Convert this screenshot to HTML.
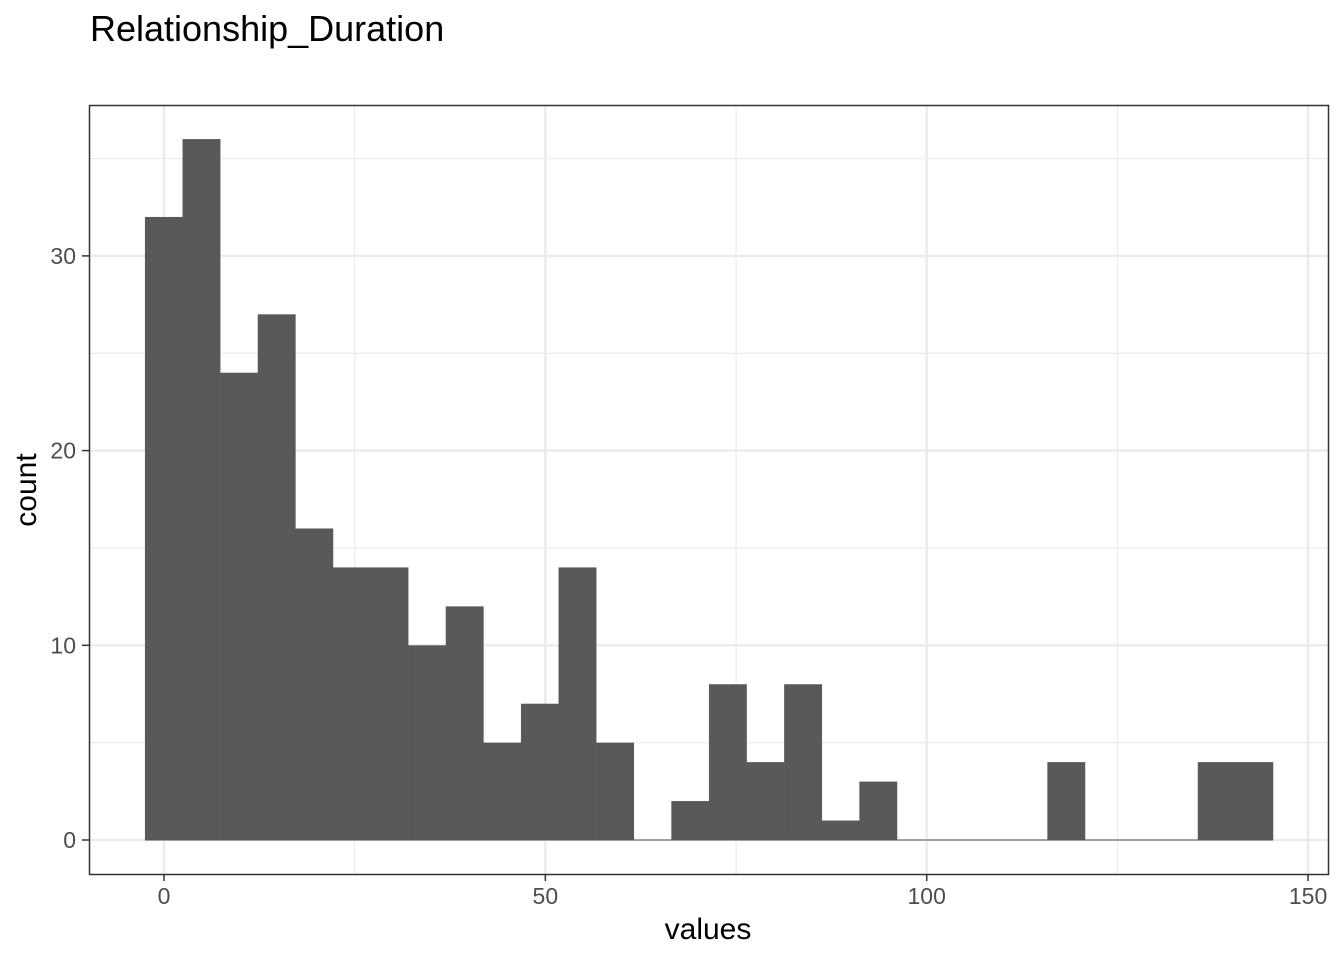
<!DOCTYPE html>
<html><head><meta charset="utf-8"><style>
body{margin:0;background:#fff}
svg text{font-family:"Liberation Sans",Arial,sans-serif}
</style></head><body>
<svg id="chart" width="1344" height="960" xmlns="http://www.w3.org/2000/svg">
<rect width="1344" height="960" fill="#fff"/>
<text x="90" y="41" font-size="36" fill="#000">Relationship_Duration</text>
<g id="grid"></g>
<g id="bars"></g>
<rect x="89.5" y="105.5" width="1239" height="769" fill="none" stroke="#333" stroke-width="1.5"/>
<g id="axes"></g>
<text x="708" y="939" font-size="30" text-anchor="middle" fill="#000">values</text>
<text transform="translate(36,490) rotate(-90)" font-size="30" text-anchor="middle" fill="#000">count</text>
</svg>
<script>
const binStart = -2.5;
const binWidth = 4.93;
const counts = [32,36,24,27,16,14,14,10,12,5,7,14,5,0,2,8,4,8,1,3,0,0,0,0,4,0,0,0,4,4];
const xTicks = [0,50,100,150];
const yTicks = [0,10,20,30];
const xMinor = [25,75,125];
const yMinor = [5,15,25,35];

const ns = "http://www.w3.org/2000/svg";
const X = v => 164 + v * 7.627;
const Y = v => 840 - v * 19.47;
function mk(tag, attrs, parent){const e=document.createElementNS(ns,tag);for(const k in attrs)e.setAttribute(k,attrs[k]);parent.appendChild(e);return e;}
const grid=document.getElementById('grid'),bars=document.getElementById('bars'),axes=document.getElementById('axes');
xMinor.forEach(v=>{const l=mk('line',{x1:X(v),x2:X(v),y1:105,y2:874,stroke:'#ebebeb','stroke-width':1.2},grid);

});
yMinor.forEach(v=>{const l=mk('line',{x1:89,x2:1328,y1:Y(v),y2:Y(v),stroke:'#ebebeb','stroke-width':1.2},grid);

});
xTicks.forEach(v=>{const l=mk('line',{x1:X(v),x2:X(v),y1:105,y2:874,stroke:'#ebebeb','stroke-width':2.4},grid);


const t=mk('line',{x1:X(v),x2:X(v),y1:874,y2:881,stroke:'#333','stroke-width':1.5},axes);


const tx=mk('text',{x:X(v),y:904,'font-size':23,'text-anchor':'middle',fill:'#4d4d4d'},axes);tx.textContent=v;

});
yTicks.forEach(v=>{const l=mk('line',{x1:89,x2:1328,y1:Y(v),y2:Y(v),stroke:'#ebebeb','stroke-width':2.4},grid);


const t=mk('line',{x1:82,x2:89,y1:Y(v),y2:Y(v),stroke:'#333','stroke-width':1.5},axes);


const tx=mk('text',{x:76,y:Y(v)+8,'font-size':23,'text-anchor':'end',fill:'#4d4d4d'},axes);tx.textContent=v;

});
const bl=mk('line',{x1:X(binStart),x2:X(binStart+binWidth*counts.length),y1:Y(0),y2:Y(0),stroke:'#595959','stroke-width':1},bars);


counts.forEach((c,i)=>{const x0=X(binStart+i*binWidth),x1=X(binStart+(i+1)*binWidth);
const r=mk('rect',{x:x0,y:Y(c),width:x1-x0+0.3,height:Y(0)-Y(c),fill:'#595959'},bars);

});
</script>
</body></html>
